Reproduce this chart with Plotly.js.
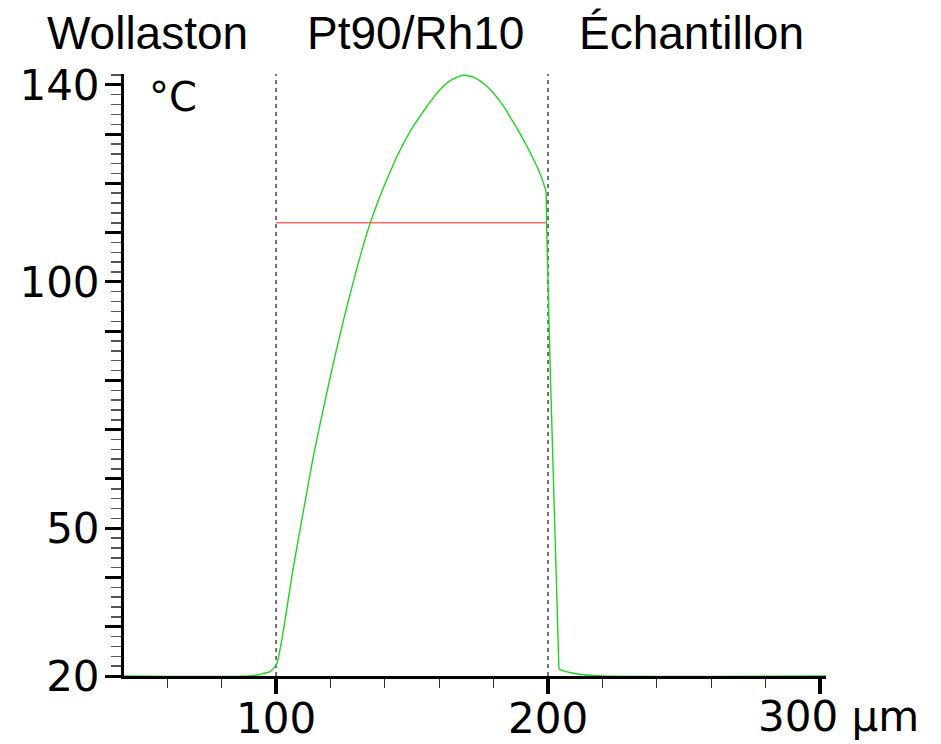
<!DOCTYPE html>
<html>
<head>
<meta charset="utf-8">
<script src="https://cdn.plot.ly/plotly-3.0.1.min.js"></script>
<style>html,body{margin:0;padding:0;background:#fff;}#chart{width:941px;height:744px;}</style>
</head>
<body>
<div id="chart"></div>
<script>
// Temperature profile (°C) along position (µm)
const positionUm = [44, 90, 94, 96, 97.8, 99, 100, 100.5, 102.1, 106.4, 110, 113.7, 118, 121.4, 125, 128.5, 131.5, 134.6, 137, 139.4, 142, 144.4, 146.5, 148.5, 150.7, 152.9, 155.3, 157.8, 159.6, 161.5, 163.4, 165.2, 167.2, 169.2, 171, 172.5, 175, 177.5, 180, 182.4, 184.2, 186, 188, 189.7, 191.5, 193.4, 195, 196.4, 198, 199.3, 199.6, 200.7, 203.2, 204, 206, 208, 211, 214, 220, 302.2];
const temperatureC = [20, 20, 20.3, 20.6, 20.9, 21.5, 22.2, 22.9, 27.3, 42.2, 53.3, 64.5, 75.8, 84.3, 92.7, 100.2, 106.3, 111.9, 115.6, 119.0, 122.4, 125.4, 127.7, 129.8, 131.8, 133.6, 135.5, 137.35, 138.6, 139.7, 140.6, 141.2, 141.7, 141.95, 141.8, 141.55, 140.8, 139.7, 138.3, 136.6, 135.2, 133.5, 131.7, 130.1, 128.3, 126.3, 124.5, 122.8, 120.6, 118.3, 108.9, 84.5, 35.4, 21.4, 21.0, 20.7, 20.4, 20.2, 20.0, 20.0];
const meanX = [100, 199.5];
const meanY = [112, 112];
const boundaries = [100, 200];
const xRange = [44.1, 302.2];
const yRange = [20, 142.2];
const xTickVals = [100, 200, 300];
const xTickText = ['100', '200', ''];
const yTickVals = [20, 30, 40, 50, 60, 70, 80, 90, 100, 110, 120, 130, 140];
const yTickText = ['20', '', '', '50', '', '', '', '', '100', '', '', '', '140'];
const zoneLabels = ['Wollaston', 'Pt90/Rh10', 'Échantillon'];
const zoneLabelX = [52.7, 151.3, 252.9];
const lastAxisLabel = '300 µm';

// split the profile so the steep drop at the interface stays straight
const dropStart = 199.3, dropEnd = 204;
function part(lo, hi) {
  const xs = [], ys = [];
  positionUm.forEach((x, i) => { if (x >= lo && x <= hi) { xs.push(x); ys.push(temperatureC[i]); } });
  return {xs, ys};
}
const p1 = part(-Infinity, dropStart);
const p2 = part(dropStart, dropEnd);
const p3 = part(dropEnd, Infinity);
const green = '#1fd41f';

const traces = [];
boundaries.forEach(b => {
  traces.push({x: [b, b], y: yRange, mode: 'lines', line: {color: '#000', width: 1.1, dash: '4px,4px'}, hoverinfo: 'skip', showlegend: false});
});
traces.push({x: meanX, y: meanY, mode: 'lines', line: {color: '#ff6a6a', width: 1.4}, showlegend: false});
traces.push({x: p1.xs, y: p1.ys, mode: 'lines', line: {color: green, width: 1.4, shape: 'spline', smoothing: 0.8}, showlegend: false});
traces.push({x: p2.xs, y: p2.ys, mode: 'lines', line: {color: green, width: 1.4}, showlegend: false});
traces.push({x: p3.xs, y: p3.ys, mode: 'lines', line: {color: green, width: 1.4, shape: 'spline', smoothing: 0.8}, showlegend: false});

const annotations = zoneLabels.map((t, i) => ({
  text: t, x: zoneLabelX[i], xref: 'x', y: 1.068, yref: 'paper', xanchor: 'center', yanchor: 'middle',
  showarrow: false, font: {family: 'Liberation Sans, Arial, sans-serif', size: 46, color: '#000'}
}));
annotations.push({text: '°C', x: 0.033, xref: 'paper', y: 0.962, yref: 'paper', xanchor: 'left', yanchor: 'middle', showarrow: false, font: {family: 'DejaVu Sans', size: 40, color: '#000'}});
annotations.push({text: lastAxisLabel, x: 0.9, xref: 'paper', y: -0.068, yref: 'paper', xanchor: 'left', yanchor: 'middle', showarrow: false, font: {family: 'DejaVu Sans', size: 42, color: '#000'}});

const tickFont = {family: 'DejaVu Sans', size: 42, color: '#000'};
const layout = {
  width: 941, height: 744,
  margin: {l: 124, r: 115, t: 74, b: 68, pad: 0},
  paper_bgcolor: '#fff', plot_bgcolor: '#fff',
  showlegend: false,
  font: {family: 'DejaVu Sans', size: 42, color: '#000'},
  xaxis: {
    range: xRange, showgrid: false, zeroline: false,
    showline: true, linecolor: '#000', linewidth: 3,
    tickmode: 'array', tickvals: xTickVals, ticktext: xTickText,
    ticks: 'outside', ticklen: 15, tickwidth: 4, tickcolor: '#000',
    ticklabelstandoff: -11,
    tickfont: tickFont,
    minor: {dtick: 20, tick0: 0, ticks: 'outside', ticklen: 9, tickwidth: 1, tickcolor: '#333', showgrid: false}
  },
  yaxis: {
    range: yRange, showgrid: false, zeroline: false,
    showline: true, linecolor: '#000', linewidth: 3,
    tickmode: 'array', tickvals: yTickVals, ticktext: yTickText,
    ticks: 'outside', ticklen: 16, tickwidth: 3, tickcolor: '#000',
    ticklabelstandoff: -3,
    tickfont: tickFont,
    minor: {dtick: 2, tick0: 0, ticks: 'outside', ticklen: 10, tickwidth: 1.5, tickcolor: '#555', showgrid: false}
  },
  annotations: annotations
};

Plotly.newPlot('chart', traces, layout, {staticPlot: true, displayModeBar: false});
</script>
</body>
</html>
